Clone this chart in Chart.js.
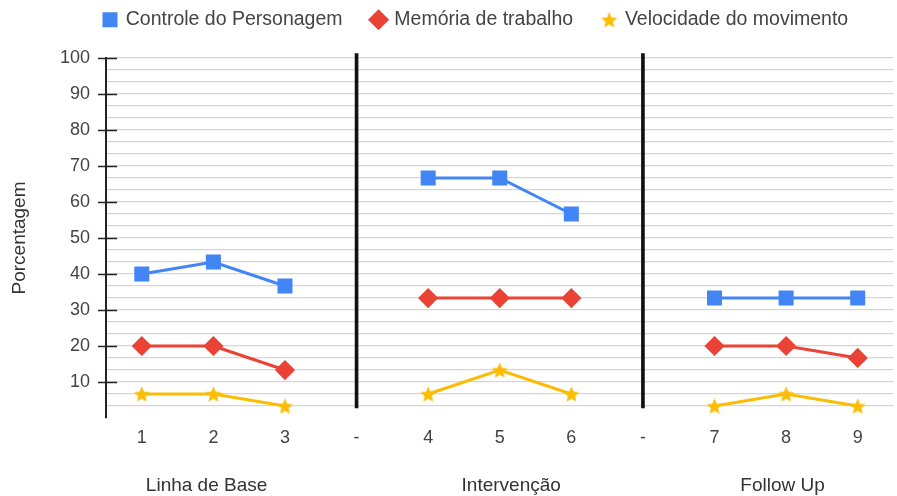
<!DOCTYPE html>
<html><head><meta charset="utf-8">
<script src="https://cdn.jsdelivr.net/npm/chart.js@4.4.1/dist/chart.umd.min.js"></script>
<style>
html,body{margin:0;padding:0;background:#fff;overflow:hidden;width:897px;height:496px}
#wrap{width:905px;height:496px;position:relative}
canvas{display:block}
</style>
</head><body><div id="wrap"><canvas id="c" width="905" height="496" style="width:905px;height:496px"></canvas></div>
<script>
const categories = ['1','2','3','-','4','5','6','-','7','8','9'];
const controle   = [40, 43.33, 36.67, null, 66.67, 66.67, 56.67, null, 33.33, 33.33, 33.33];
const memoria    = [20, 20, 13.33, null, 33.33, 33.33, 33.33, null, 20, 20, 16.67];
const velocidade = [6.67, 6.67, 3.33, null, 6.67, 13.33, 6.67, null, 3.33, 6.67, 3.33];
const seriesNames = ['Controle do Personagem', 'Memória de trabalho', 'Velocidade do movimento'];
const phaseNames = ['Linha de Base', 'Intervenção', 'Follow Up'];
const separatorIdx = [3, 7];
const separatorRange = [2.8, 101.2];
const yTickLabels = [10, 20, 30, 40, 50, 60, 70, 80, 90, 100];

const BLUE = '#4285f4', RED = '#ea4335', YELLOW = '#fbbc04';
const FONT = '"Liberation Sans", Arial, sans-serif';

function starCanvas(size, color) {
  const c = document.createElement('canvas');
  c.width = c.height = size;
  const g = c.getContext('2d');
  g.fillStyle = color;
  g.beginPath();
  const cx = size / 2, cy = size / 2 + size * 0.05, R = size / 2, r = R * 0.45;
  for (let i = 0; i < 10; i++) {
    const a = -Math.PI / 2 + i * Math.PI / 5;
    const rr = i % 2 ? r : R;
    g.lineTo(cx + rr * Math.cos(a), cy + rr * Math.sin(a));
  }
  g.closePath();
  g.fill();
  return c;
}
const star = starCanvas(17, YELLOW);

const separators = categories.map((c, i) => separatorIdx.includes(i) ? separatorRange : null);

const majorTicks = {
  id: 'majorTicks',
  afterDraw(chart) {
    const y = chart.scales.y, ctx = chart.ctx, x0 = y.right;
    ctx.save();
    ctx.strokeStyle = '#222';
    ctx.lineWidth = 1.5;
    yTickLabels.forEach(v => {
      const py = Math.round(y.getPixelForValue(v)) + 0.5;
      ctx.beginPath();
      ctx.moveTo(x0 - 8, py);
      ctx.lineTo(x0 + 11, py);
      ctx.stroke();
    });
    ctx.restore();
  }
};

const LEGEND_TOP = -20;
const LEGEND_PAD = 30;
const legendFix = {
  id: 'legendFix',
  afterInit(chart) {
    const lg = chart.legend;
    if (!lg) return;
    const f = lg.fit.bind(lg);
    lg.fit = function () { f(); this.height = 58 - LEGEND_TOP; };
  },
  afterLayout(chart) {
    const lg = chart.legend;
    if (lg) lg.left = 104 - LEGEND_PAD;
  }
};

Chart.defaults.font.family = FONT;
Chart.defaults.color = '#444';

new Chart(document.getElementById('c'), {
  data: {
    labels: categories,
    datasets: [
      { type: 'line', label: seriesNames[0], data: controle, borderColor: BLUE, backgroundColor: BLUE,
        borderWidth: 3, pointStyle: 'rect', pointRadius: 8.5, pointHoverRadius: 8.5, spanGaps: false, order: 1 },
      { type: 'line', label: seriesNames[1], data: memoria, borderColor: RED, backgroundColor: RED,
        borderWidth: 3, pointStyle: 'rectRot', pointRadius: 8, pointHoverRadius: 8, spanGaps: false, order: 2 },
      { type: 'line', label: seriesNames[2], data: velocidade, borderColor: YELLOW, backgroundColor: YELLOW,
        borderWidth: 3, pointStyle: star, pointRadius: 8, spanGaps: false, order: 3 },
      { type: 'bar', label: 'sep', data: separators, backgroundColor: '#111', borderWidth: 0,
        barThickness: 3, grouped: false, clip: false, order: 4 }
    ]
  },
  options: {
    responsive: false,
    animation: false,
    layout: { padding: { top: LEGEND_TOP, left: 0, right: 0, bottom: 0 } },
    plugins: {
      tooltip: { enabled: false },
      legend: {
        position: 'top',
        align: 'start',
        labels: {
          usePointStyle: true,
          boxHeight: 12,
          boxWidth: 12,
          padding: LEGEND_PAD,
          color: '#444',
          font: { size: 19.5, family: FONT },
          filter: item => item.text !== 'sep'
        }
      }
    },
    scales: {
      x: {
        type: 'category',
        offset: true,
        afterFit: s => { s.height = 30; },
        grid: { display: false, drawTicks: false },
        border: { display: false },
        ticks: { padding: 9, color: '#444', font: { size: 18 } }
      },
      phase: {
        type: 'linear',
        position: 'bottom',
        weight: 1,
        min: -0.5, max: 10.5,
        afterFit: s => { s.height = 48; },
        grid: { display: false, drawTicks: false },
        border: { display: false },
        afterBuildTicks: s => { s.ticks = [0.905, 5.16, 8.95].map(v => ({ value: v })); },
        ticks: { padding: 26, autoSkip: false, maxRotation: 0, color: '#333', font: { size: 19 },
          callback: (v, i) => phaseNames[i] }
      },
      y: {
        min: 0, max: 100,
        afterBuildTicks: s => { s.ticks = Array.from({ length: 31 }, (_, i) => ({ value: i * 10 / 3 })); },
        afterFit: s => { s.width = 106; },
        grid: { drawTicks: false, lineWidth: 1.2,
          color: ctx => (ctx.tick && ctx.tick.value === 0) ? 'rgba(0,0,0,0)' : '#d6d6d6' },
        border: { display: true, color: '#222', width: 2 },
        ticks: { padding: 16, color: '#444', font: { size: 18 }, autoSkip: false,
          callback: v => {
            const r = Math.round(v / 10) * 10;
            return (Math.abs(v - r) < 1e-6 && r > 0) ? String(r) : '';
          } },
        title: { display: true, text: 'Porcentagem', color: '#333', font: { size: 19 }, padding: { top: 8.6, bottom: 0 } }
      }
    }
  },
  plugins: [majorTicks, legendFix]
});
</script>
</body></html>
